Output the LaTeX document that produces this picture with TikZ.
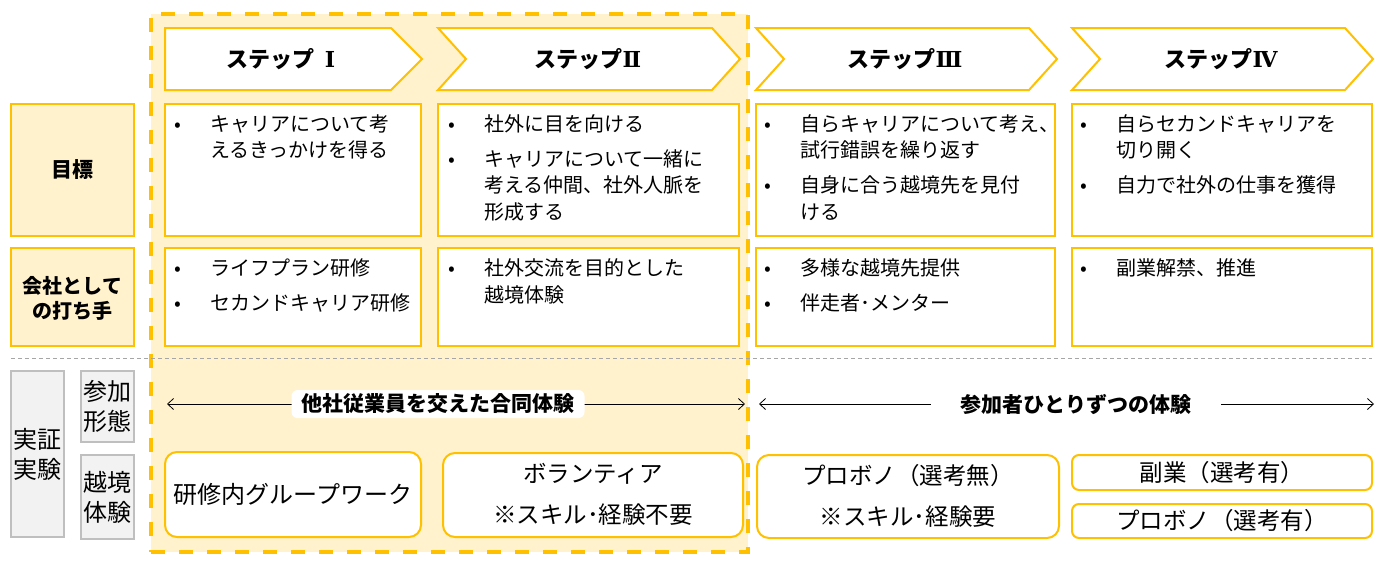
\documentclass[tikz,border=0pt]{standalone}
\usepackage{fontspec}
\setmainfont{Noto Sans CJK JP}
\newfontfamily\rnfont{DejaVu Serif}
\usetikzlibrary{arrows.meta,fit}
\definecolor{org}{HTML}{FFC000}
\definecolor{lite}{HTML}{FFF2CC}
\definecolor{gfill}{HTML}{F2F2F2}
\definecolor{gline}{HTML}{BFBFBF}
\definecolor{dline}{HTML}{A6A6A6}
\newcommand{\bitem}[1]{\makebox[32pt][l]{\makebox[0pt][c]{•}}#1}
\newcommand{\cont}[1]{\hspace*{32pt}#1}
\newcommand{\blines}[1]{\begin{tabular}[t]{@{}l@{}}#1\end{tabular}}
\newcommand{\rn}[1]{{\rnfont\bfseries #1}}
\tikzset{
  obox/.style={draw=org, line width=2pt, fill=white, inner sep=0pt},
  lbox/.style={draw=org, line width=2pt, fill=lite, inner sep=0pt},
  gbox/.style={draw=gline, line width=2pt, fill=gfill, inner sep=0pt},
  rbox/.style={obox, rounded corners=12pt},
  sbox/.style={obox, rounded corners=7pt},
  hdr/.style={draw=org, line width=2pt, fill=white, line join=miter},
  htext/.style={font=\fontsize{22}{26}\selectfont\bfseries, inner sep=0pt},
  btext/.style={font=\fontsize{20}{26.5}\selectfont, inner sep=0pt, anchor=base west},
  ltext/.style={font=\fontsize{21}{25}\selectfont\bfseries, align=center, inner sep=0pt},
  gtext/.style={font=\fontsize{24}{30}\selectfont, align=center, inner sep=0pt},
  rtext/.style={font=\fontsize{23.5}{41}\selectfont, align=center, inner sep=0pt},
  arr/.style={draw=black, line width=0.8pt, {Straight Barb[length=6pt,width=11pt]}-{Straight Barb[length=6pt,width=11pt]}},
  atext/.style={font=\fontsize{21}{25}\selectfont\bfseries, fill=white, inner ysep=0pt, minimum height=28pt},
}
\begin{document}
\begin{tikzpicture}[x=1pt,y=-1pt]
\useasboundingbox (0,0) rectangle (1386,566);
% group background
\node[draw=org, fill=lite, line width=3.2pt, dash pattern=on 14pt off 14pt, inner sep=0pt, fit={(151,14) (748,552)}] (grp) {};
% separator
\coordinate (d1) at (11,358);
\coordinate (d2) at (1372,358);
\draw[dline, line width=1pt, dash pattern=on 4pt off 3pt] (d1) -- (d2);
% headers
\draw[hdr] (165,28) -- (391,28) -- (422,59) -- (391,90) -- (165,90) -- cycle;
\draw[hdr] (438,28) -- (712,28) -- (740,59) -- (712,90) -- (438,90) -- (466,59) -- cycle;
\draw[hdr] (756,28) -- (1029,28) -- (1057,59) -- (1029,90) -- (756,90) -- (784,59) -- cycle;
\draw[hdr] (1072,28) -- (1345,28) -- (1373,59) -- (1345,90) -- (1072,90) -- (1100,59) -- cycle;
\node[htext] (h1) at (281,59) {ステップ\hspace{10pt}\rn{Ⅰ}\hspace{4pt}};
\node[htext] (h2) at (588,59) {ステップ\rn{Ⅱ}};
\node[htext] (h3) at (905,59) {ステップ\rn{Ⅲ}};
\node[htext] (h4) at (1221,59) {ステップ\rn{Ⅳ}};
% left labels
\node[lbox, fit={(11,104) (134,236)}] (L1) {};
\node[lbox, fit={(11,248) (134,346)}] (L2) {};
\node[ltext] at (L1.center) (L1t) {目標};
\node[ltext, font=\fontsize{20}{25}\selectfont\bfseries] at ([yshift=-1pt]L2.center) (L2t) {会社として\\の打ち手};
% row 1 boxes
\node[obox, fit={(165,104) (421,236)}] (c1) {};
\node[obox, fit={(438,104) (739,236)}] (c2) {};
\node[obox, fit={(756,104) (1055,236)}] (c3) {};
\node[obox, fit={(1072,104) (1372,236)}] (c4) {};
\node[btext] (t1) at (178,131) {\blines{\bitem{キャリアについて考}\\\cont{えるきっかけを得る}}};
\node[btext] (t2) at (452,131) {\blines{\bitem{社外に目を向ける}\\[8.5pt]\bitem{キャリアについて一緒に}\\\cont{考える仲間、社外人脈を}\\\cont{形成する}}};
\node[btext] (t3) at (768,131) {\blines{\bitem{自らキャリアについて考え、}\\\cont{試行錯誤を繰り返す}\\[8.5pt]\bitem{自身に合う越境先を見付}\\\cont{ける}}};
\node[btext] (t4) at (1084,131) {\blines{\bitem{自らセカンドキャリアを}\\\cont{切り開く}\\[8.5pt]\bitem{自力で社外の仕事を獲得}}};
% row 2 boxes
\node[obox, fit={(165,248) (421,346)}] (e1) {};
\node[obox, fit={(438,248) (739,346)}] (e2) {};
\node[obox, fit={(756,248) (1055,346)}] (e3) {};
\node[obox, fit={(1072,248) (1372,346)}] (e4) {};
\node[btext] (u1) at (178,275.6) {\blines{\bitem{ライフプラン研修}\\[8.5pt]\bitem{セカンドキャリア研修}}};
\node[btext] (u2) at (452,275.6) {\blines{\bitem{社外交流を目的とした}\\\cont{越境体験}}};
\node[btext] (u3) at (768,275.6) {\blines{\bitem{多様な越境先提供}\\[8.5pt]\bitem{伴走者･メンター}}};
\node[btext] (u4) at (1084,275.6) {\blines{\bitem{副業解禁、推進}}};
% gray labels
\node[gbox, fit={(11,371) (64,537)}] (G1) {};
\node[gbox, fit={(81,371) (134,442)}] (G2) {};
\node[gbox, fit={(81,455) (134,539)}] (G3) {};
\node[gtext] at (G1.center) (G1t) {実証\\実験};
\node[gtext] at (G2.center) (G2t) {参加\\形態};
\node[gtext] at (G3.center) (G3t) {越境\\体験};
% arrows
\coordinate (a1) at (167,404);
\coordinate (a2) at (745,404);
\coordinate (a3) at (759,404);
\coordinate (a4) at (1374,404);
\draw[arr] (a1) -- (a2);
\draw[arr] (a3) -- (a4);
\node[atext, rounded corners=6pt, inner xsep=10pt] (al1) at (438,404) {他社従業員を交えた合同体験};
\node[atext, inner xsep=30pt] (al2) at (1076,404) {参加者ひとりずつの体験};
% bottom boxes
\node[rbox, fit={(165,452) (421,537)}] (B1) {};
\node[rbox, fit={(443,453) (743,537)}] (B2) {};
\node[rbox, fit={(757,455) (1059,538)}] (B3) {};
\node[sbox, fit={(1072,455) (1372,490)}] (B4) {};
\node[sbox, fit={(1072,504) (1372,538)}] (B5) {};
\node[rtext, font=\fontsize{24}{41}\selectfont] at (B1.center) (B1t) {研修内グループワーク};
\node[rtext] at ([yshift=1pt]B2.center) (B2t) {ボランティア\\※スキル･経験不要};
\node[rtext] at ([yshift=1pt]B3.center) (B3t) {プロボノ（選考無）\\※スキル･経験要};
\node[rtext] at (B4.center) (B4t) {副業（選考有）};
\node[rtext] at (B5.center) (B5t) {プロボノ（選考有）};
\end{tikzpicture}
\end{document}
